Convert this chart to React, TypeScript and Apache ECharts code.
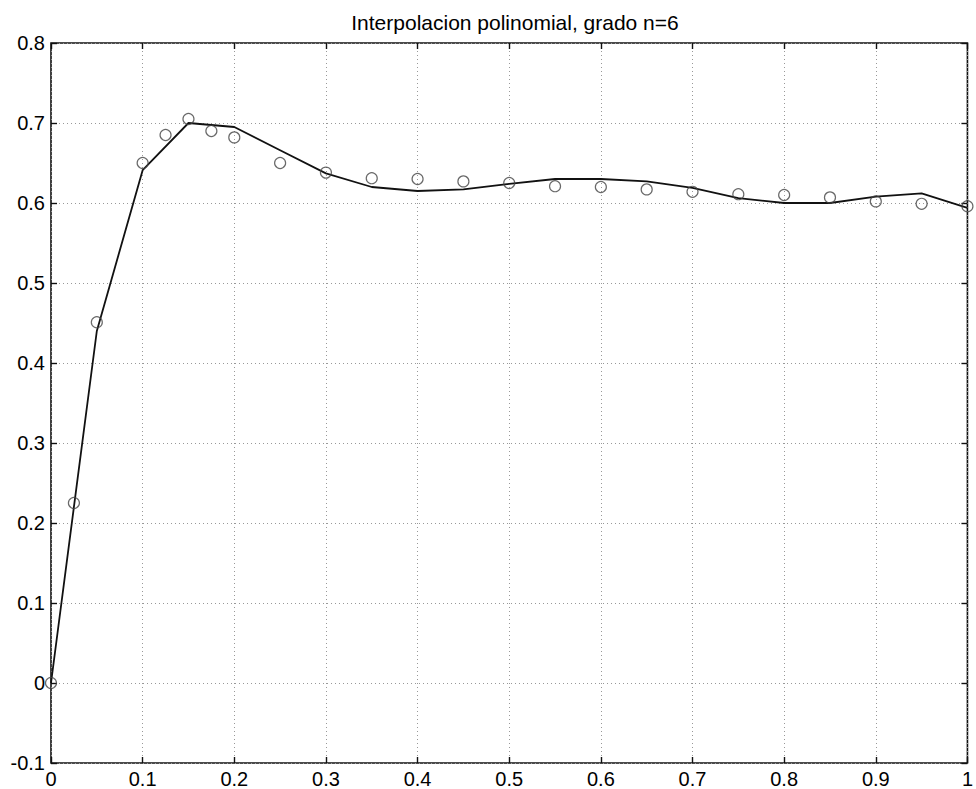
import React, { useEffect, useRef } from "react";
import * as echarts from "echarts";

const titleText = "Interpolacion polinomial, grado n=6";

// sampled data points (circles)
const pointX = [0, 0.025, 0.05, 0.1, 0.125, 0.15, 0.175, 0.2, 0.25, 0.3, 0.35, 0.4, 0.45, 0.5, 0.55, 0.6, 0.65, 0.7, 0.75, 0.8, 0.85, 0.9, 0.95, 1.0];
const pointY = [0, 0.225, 0.451, 0.65, 0.685, 0.705, 0.69, 0.682, 0.65, 0.638, 0.631, 0.63, 0.627, 0.625, 0.621, 0.62, 0.617, 0.614, 0.611, 0.61, 0.607, 0.602, 0.599, 0.596];

// interpolating polynomial (solid line)
const lineX = [0, 0.05, 0.1, 0.15, 0.2, 0.25, 0.3, 0.35, 0.4, 0.45, 0.5, 0.55, 0.6, 0.65, 0.7, 0.75, 0.8, 0.85, 0.9, 0.95, 1.0];
const lineY = [0, 0.44, 0.641, 0.7, 0.695, 0.666, 0.637, 0.62, 0.615, 0.617, 0.624, 0.63, 0.63, 0.627, 0.619, 0.606, 0.6, 0.6, 0.608, 0.612, 0.594];

const FONT = "'Liberation Sans', Arial, sans-serif";

export default function App() {
  const ref = useRef<HTMLDivElement>(null);
  useEffect(() => {
    if (!ref.current) return;
    const chart = echarts.init(ref.current, null, { renderer: "svg" });
    const axisLine = { show: false, onZero: false };
    const tick = { show: true, inside: true, length: 6, lineStyle: { color: "#111", width: 1.4 } };
    const label = { fontFamily: FONT, fontSize: 20, color: "#000", margin: 6 };
    const split = { show: true, lineStyle: { type: [1, 3], color: "#999", width: 1 } };
    chart.setOption({
      animation: false,
      backgroundColor: "#fff",
      title: {
        text: titleText,
        left: 510,
        top: 7,
        textAlign: "center",
        textStyle: { fontFamily: FONT, fontSize: 21, fontWeight: "normal", color: "#000" },
      },
      grid: {
        left: 51, right: 7, top: 43, bottom: 26,
        show: true, borderColor: "#111", borderWidth: 1.6, backgroundColor: "transparent",
      },
      xAxis: [
        {
          type: "value", min: 0, max: 1, interval: 0.1, position: "bottom",
          axisLine, axisTick: tick, axisLabel: label, splitLine: split,
        },
        {
          type: "value", min: 0, max: 1, interval: 0.1, position: "top",
          axisLine, axisTick: tick, axisLabel: { show: false }, splitLine: { show: false },
        },
      ],
      yAxis: [
        {
          type: "value", min: -0.1, max: 0.8, interval: 0.1, position: "left",
          axisLine, axisTick: tick, axisLabel: label, splitLine: split,
        },
        {
          type: "value", min: -0.1, max: 0.8, interval: 0.1, position: "right",
          axisLine, axisTick: tick, axisLabel: { show: false }, splitLine: { show: false },
        },
      ],
      series: [
        {
          type: "line",
          data: lineX.map((x, i) => [x, lineY[i]]),
          symbol: "none",
          lineStyle: { color: "#111", width: 1.8 },
          z: 2,
        },
        {
          type: "scatter",
          data: pointX.map((x, i) => [x, pointY[i]]),
          symbol: "circle",
          symbolSize: 11,
          itemStyle: { color: "rgba(255,255,255,0)", borderColor: "#444", borderWidth: 1.2 },
          z: 3,
        },
      ],
    });
    return () => chart.dispose();
  }, []);
  return <div ref={ref} style={{ width: 976, height: 789, position: "absolute", left: 0, top: 0 }} />;
}
